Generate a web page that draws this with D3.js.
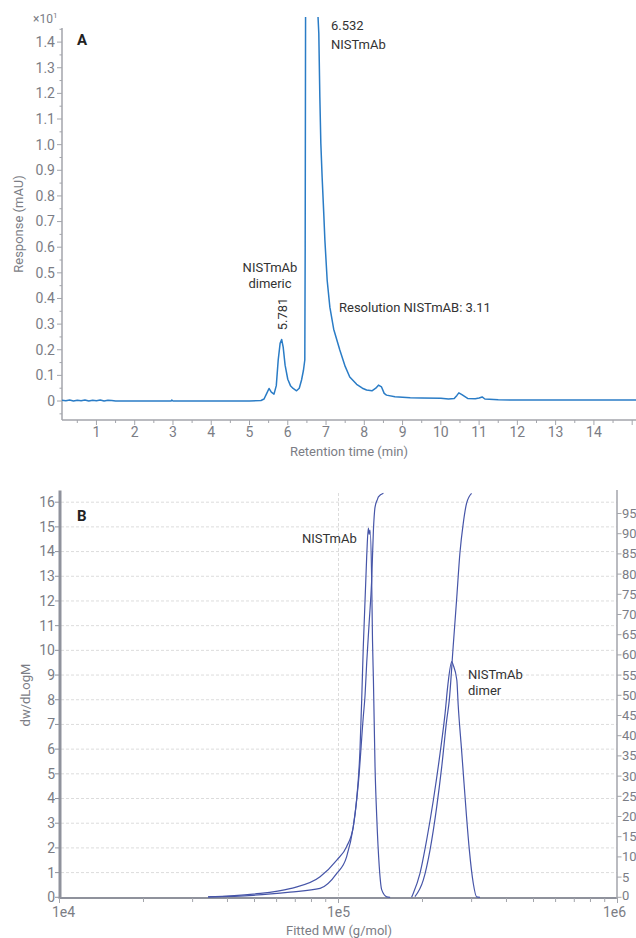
<!DOCTYPE html>
<html><head><meta charset="utf-8">
<script src="https://cdn.jsdelivr.net/npm/d3@7"></script>
<style>
html,body{margin:0;padding:0;background:#fff;}
svg{display:block;font-family:Roboto,"Noto Sans",sans-serif;}
</style></head>
<body>
<svg id="c" width="636" height="938"></svg>
<script>
// ---------- Panel A data: chromatogram (Retention time min, Response x10 mAU)
const timeA = [0.1,0.2,0.3,0.4,0.5,0.6,0.7,0.8,0.9,1.0,1.1,1.2,1.3,1.4,1.5,2.0,2.95,2.97,3.0,4.0,5.0,5.3,
  5.38,5.45,5.51,5.57,5.64,5.70,5.75,5.80,5.84,5.88,5.93,6.0,6.07,6.14,6.23,6.30,6.36,6.41,6.445,
  6.455,6.465,6.48,6.50,6.532,6.56,6.62,6.70,6.76,6.79,6.811,6.838,6.864,6.898,6.94,6.97,7.03,7.10,7.2,7.36,7.5,7.62,7.8,7.95,8.06,
  8.2,8.3,8.37,8.45,8.52,8.58,8.8,9.0,9.2,9.5,10.0,10.2,10.35,10.42,10.47,10.55,10.7,10.9,11.0,11.08,11.15,11.5,12.0,13.0,14.0,15.1];
const respA = [0.003,0.001,0.004,0.0,0.003,0.001,0.004,0.0,0.003,0.001,0.004,0.0,0.003,0.002,0.0,0.0,0.0,0.004,0.0,0.0,0.0,0.002,
  0.008,0.03,0.049,0.035,0.027,0.06,0.16,0.225,0.24,0.21,0.14,0.085,0.06,0.049,0.040,0.05,0.082,0.12,0.16,
  0.6,1.5,3.0,4.2,4.6,4.2,3.2,2.2,1.7,1.5,1.434,1.186,1.005,0.873,0.733,0.627,0.47,0.366,0.28,0.199,0.135,0.094,0.065,0.05,0.043,
  0.04,0.05,0.062,0.055,0.03,0.023,0.017,0.015,0.013,0.012,0.011,0.008,0.01,0.022,0.032,0.025,0.01,0.009,0.012,0.016,0.008,0.005,0.004,0.004,0.004,0.004];
const yTicksA = [0,0.1,0.2,0.3,0.4,0.5,0.6,0.7,0.8,0.9,1.0,1.1,1.2,1.3,1.4];
const xTicksA = [1,2,3,4,5,6,7,8,9,10,11,12,13,14];

// ---------- Panel B data: MW distribution
const mwMonoDw = [34100,49400,67000,85900,98600,106900,113000,116100,119400,121100,122700,126200,127900,128800,129700,131500,132400,133400,135200,137100,140000,142900,148900,153100];
const dwMono   = [0.02,0.13,0.35,0.83,1.51,2.05,2.86,3.94,5.97,8.0,10.15,13.8,14.95,14.7,14.87,12.85,10.4,8.8,5.29,3.26,1.24,0.30,0.02,0];
const mwMonoCum = [34100,49400,67000,85900,98600,106900,113000,117800,122700,124500,126200,128800,131500,133400,135200,137900,139000,144900];
const cumMono   = [0.1,0.5,1.3,2.2,5.9,10.0,17.5,28.2,44.7,50,58,68,78.5,90.9,96.6,98.5,99.1,100];
const mwDimDw = [182800,185400,195900,207000,218800,231200,241000,246600,254700,257600,265500,268500,276100,281800,287700,294400,304100,312600,321400];
const dwDim   = [0,0.16,0.97,2.32,3.94,5.83,7.45,8.6,9.54,9.41,8.8,7.8,5.97,4.62,3.26,1.92,0.57,0.02,0];
const mwDimCum = [187900,201400,212800,224900,234400,244300,249500,257600,265500,272300,279900,287700,299900];
const cumDim   = [0.15,4.3,11.7,22.4,32.3,43.9,48.8,62.0,74.4,85.1,92.5,97.5,100];
const yTicksBL = d3.range(0,17);
const yTicksBR = d3.range(0,100,5);
const xMinorB = [2e4,3e4,4e4,5e4,6e4,7e4,8e4,9e4,2e5,3e5,4e5,5e5,6e5,7e5,8e5,9e5];
const xMajorB = [1e4,1e5,1e6];
const xLabelsB = ["1e4","1e5","1e6"];

const svg = d3.select("#c");
const tickCol = "#7b7d85", axisCol = "#a3a5ab", textCol = "#333";

// ================= PANEL A =================
const xA = d3.scaleLinear().domain([0.1,15.1]).range([62,636]);
const yA = d3.scaleLinear().domain([-0.074,1.455]).range([420,28]);
const gA = svg.append("g");
gA.append("line").attr("x1",62).attr("x2",62).attr("y1",yA.range()[1]).attr("y2",420).attr("stroke",axisCol).attr("stroke-width",1.5);
gA.append("line").attr("x1",62).attr("x2",636).attr("y1",420).attr("y2",420).attr("stroke",axisCol).attr("stroke-width",1.5);
d3.range(-0.05,1.46,0.05).forEach(v=>{
  const major = Math.abs(Math.round(v*10)-v*10)<1e-6 && v>=0;
  gA.append("line").attr("x1",62).attr("x2",major?57:59.5).attr("y1",yA(v)).attr("y2",yA(v)).attr("stroke",axisCol).attr("stroke-width",1);
});
yTicksA.forEach(v=>{
  gA.append("text").attr("x",55).attr("y",yA(v)).attr("dy","0.35em").attr("text-anchor","end")
    .attr("font-size",14).attr("fill",tickCol).text(v===0?"0":v.toFixed(1));
});
gA.append("text").attr("x",33).attr("y",23).attr("font-size",12).attr("fill",tickCol)
  .text("×10").append("tspan").attr("dy",-5).attr("font-size",8).text("1");
d3.range(0.5,15.01,0.5).forEach(v=>{
  const major = Math.abs(v-Math.round(v))<1e-6;
  gA.append("line").attr("x1",xA(v)).attr("x2",xA(v)).attr("y1",420).attr("y2",major?425:423).attr("stroke",axisCol).attr("stroke-width",1);
});
xTicksA.forEach(v=>{
  gA.append("text").attr("x",xA(v)).attr("y",437).attr("text-anchor","middle").attr("font-size",14).attr("fill",tickCol).text(v);
});
gA.append("text").attr("x",349).attr("y",456).attr("text-anchor","middle").attr("font-size",13).attr("fill",tickCol).text("Retention time (min)");
gA.append("text").attr("transform","translate(23,224) rotate(-90)").attr("text-anchor","middle").attr("font-size",13).attr("fill",tickCol).text("Response (mAU)");
svg.append("clipPath").attr("id","clipA").append("rect").attr("x",62).attr("y",17).attr("width",574).attr("height",403);
const lineA = d3.line().x((d,i)=>xA(timeA[i])).y(d=>yA(d));
gA.append("path").datum(respA).attr("clip-path","url(#clipA)").attr("d",lineA).attr("fill","none")
  .attr("stroke","#2a7cc6").attr("stroke-width",1.5).attr("stroke-linejoin","round");
gA.append("text").attr("x",77).attr("y",45).attr("font-size",15).attr("font-weight","bold").attr("fill","#222").text("A");
gA.append("text").attr("x",331).attr("y",30).attr("font-size",13).attr("fill",textCol).text("6.532");
gA.append("text").attr("x",331).attr("y",49).attr("font-size",13).attr("fill",textCol).text("NISTmAb");
gA.append("text").attr("x",270).attr("y",272).attr("text-anchor","middle").attr("font-size",13).attr("fill",textCol).text("NISTmAb");
gA.append("text").attr("x",270).attr("y",288).attr("text-anchor","middle").attr("font-size",13).attr("fill",textCol).text("dimeric");
gA.append("text").attr("transform","translate(287,314) rotate(-90)").attr("text-anchor","middle").attr("font-size",13).attr("fill",textCol).text("5.781");
gA.append("text").attr("x",339).attr("y",312).attr("font-size",13).attr("fill",textCol).text("Resolution NISTmAB: 3.11");

// ================= PANEL B =================
const xB = d3.scaleLog().domain([1e4,1e6]).range([59.5,617.5]);
const yBL = d3.scaleLinear().domain([0,16.36]).range([897.3,493.3]);
const yBR = d3.scaleLinear().domain([0,100]).range([897.3,493.3]);
const gB = svg.append("g");
const axisB = "#8f929c";
yTicksBL.filter(v=>v>0).forEach(v=>{
  gB.append("line").attr("x1",61).attr("x2",617).attr("y1",yBL(v)).attr("y2",yBL(v))
    .attr("stroke","#dcdcdc").attr("stroke-width",1).attr("stroke-dasharray","3,2");
});
gB.append("line").attr("x1",xB(1e5)).attr("x2",xB(1e5)).attr("y1",493).attr("y2",897)
  .attr("stroke","#dcdcdc").attr("stroke-width",1).attr("stroke-dasharray","3,2");
gB.append("line").attr("x1",60).attr("x2",60).attr("y1",490.5).attr("y2",899).attr("stroke",axisB).attr("stroke-width",3);
gB.append("line").attr("x1",59).attr("x2",617.5).attr("y1",898).attr("y2",898).attr("stroke",axisB).attr("stroke-width",2);
gB.append("line").attr("x1",617).attr("x2",617).attr("y1",490).attr("y2",899).attr("stroke","#a3a5ab").attr("stroke-width",1.5);
yTicksBL.forEach(v=>{
  gB.append("line").attr("x1",55).attr("x2",60).attr("y1",yBL(v)).attr("y2",yBL(v)).attr("stroke",axisB).attr("stroke-width",1);
  gB.append("text").attr("x",55).attr("y",yBL(v)).attr("dy","0.35em").attr("text-anchor","end").attr("font-size",14).attr("fill",tickCol).text(v);
});
yTicksBR.forEach(v=>{
  gB.append("line").attr("x1",617).attr("x2",621.5).attr("y1",yBR(v)).attr("y2",yBR(v)).attr("stroke","#a3a5ab").attr("stroke-width",1);
  gB.append("text").attr("x",622).attr("y",yBR(v)).attr("dy",v===0?"0.2em":"0.35em").attr("text-anchor","start").attr("font-size",13).attr("fill",tickCol).text(v);
});
xMinorB.forEach(v=>{
  gB.append("line").attr("x1",xB(v)).attr("x2",xB(v)).attr("y1",898).attr("y2",902).attr("stroke","#a3a5ab").attr("stroke-width",1);
});
xMajorB.forEach((v,i)=>{
  gB.append("line").attr("x1",xB(v)).attr("x2",xB(v)).attr("y1",898).attr("y2",903).attr("stroke","#a3a5ab").attr("stroke-width",1);
  gB.append("text").attr("x",i===0?xB(v)+4:(i===2?xB(v)-3:xB(v))).attr("y",917).attr("text-anchor","middle").attr("font-size",14).attr("fill",tickCol).text(xLabelsB[i]);
});
gB.append("text").attr("x",339).attr("y",935).attr("text-anchor","middle").attr("font-size",13).attr("fill",tickCol).text("Fitted MW (g/mol)");
gB.append("text").attr("transform","translate(30,695) rotate(-90)").attr("text-anchor","middle").attr("font-size",13).attr("fill",tickCol).text("dw/dLogM");
svg.append("clipPath").attr("id","clipB").append("rect").attr("x",61).attr("y",492).attr("width",556).attr("height",406);
const lineCol = "#4655a8";
function drawLine(xs, ys, yScale){
  gB.append("path").datum(ys).attr("clip-path","url(#clipB)")
    .attr("d", d3.line().curve(d3.curveMonotoneX).x((d,i)=>xB(xs[i])).y(d=>yScale(d)))
    .attr("fill","none").attr("stroke",lineCol).attr("stroke-width",1.2);
}
drawLine(mwMonoDw, dwMono, yBL);
drawLine(mwMonoCum, cumMono, yBR);
drawLine(mwDimDw, dwDim, yBL);
drawLine(mwDimCum, cumDim, yBR);
gB.append("text").attr("x",77).attr("y",521).attr("font-size",15).attr("font-weight","bold").attr("fill","#222").text("B");
gB.append("text").attr("x",302).attr("y",543).attr("font-size",13).attr("fill",textCol).text("NISTmAb");
gB.append("text").attr("x",468).attr("y",679).attr("font-size",13).attr("fill",textCol).text("NISTmAb");
gB.append("text").attr("x",468).attr("y",695).attr("font-size",13).attr("fill",textCol).text("dimer");
</script>
</body></html>
